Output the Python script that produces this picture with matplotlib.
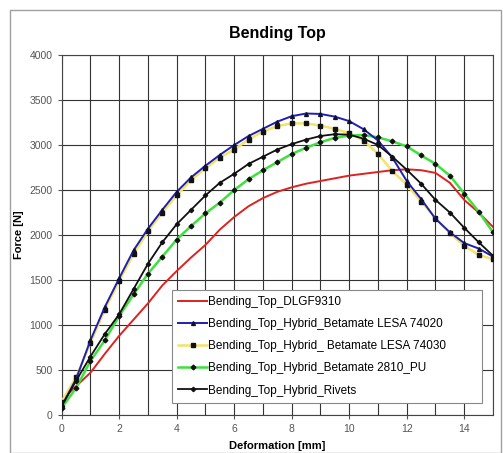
import matplotlib
matplotlib.use("Agg")
from matplotlib import pyplot as plt
from matplotlib.patches import Rectangle

plt.rcParams['font.family'] = ['Liberation Sans', 'DejaVu Sans']

# Werte (Deformation in mm, Kraft in N)
deformation = [0.0, 0.5, 1.0, 1.5, 2.0, 2.5, 3.0, 3.5, 4.0, 4.5, 5.0, 5.5, 6.0, 6.5, 7.0, 7.5,
               8.0, 8.5, 9.0, 9.5, 10.0, 10.5, 11.0, 11.5, 12.0, 12.5, 13.0, 13.5, 14.0, 14.5, 15.0]

force_dlgf = [170, 320, 470, 680, 880, 1060, 1240, 1440, 1600, 1750, 1890, 2060, 2200, 2320, 2410, 2480,
              2530, 2570, 2600, 2630, 2660, 2680, 2700, 2720, 2730, 2720, 2690, 2580, 2390, 2250, 2090]
force_74020 = [100, 400, 830, 1200, 1520, 1830, 2070, 2280, 2480, 2640, 2770, 2890, 3000, 3100, 3180, 3260,
               3320, 3350, 3345, 3315, 3265, 3175, 3050, 2860, 2600, 2400, 2180, 2030, 1910, 1850, 1760]
force_74030 = [150, 420, 800, 1170, 1490, 1790, 2040, 2250, 2440, 2610, 2740, 2860, 2950, 3060, 3150, 3210,
               3240, 3240, 3215, 3180, 3130, 3050, 2900, 2710, 2560, 2370, 2190, 2020, 1880, 1780, 1730]
force_pu = [80, 300, 600, 830, 1100, 1340, 1570, 1760, 1950, 2100, 2240, 2360, 2500, 2620, 2720, 2810,
            2900, 2970, 3030, 3080, 3105, 3110, 3085, 3040, 2985, 2885, 2790, 2660, 2460, 2260, 2030]
force_rivets = [100, 380, 650, 900, 1120, 1400, 1680, 1920, 2120, 2280, 2440, 2580, 2680, 2790, 2870, 2950,
                3010, 3060, 3100, 3120, 3115, 3070, 3000, 2870, 2725, 2570, 2390, 2250, 2080, 1920, 1770]

labels = ["Bending_Top_DLGF9310",
          "Bending_Top_Hybrid_Betamate LESA 74020",
          "Bending_Top_Hybrid_ Betamate LESA 74030",
          "Bending_Top_Hybrid_Betamate 2810_PU",
          "Bending_Top_Hybrid_Rivets"]

fig = plt.figure(figsize=(5.03, 4.53), dpi=100)
fig.patches.append(Rectangle((10 / 503, 0.0), 491 / 503, 1 - 10 / 453, transform=fig.transFigure,
                             fill=False, edgecolor="#a0a0a0", linewidth=1.0))

ax = fig.add_axes([61.7 / 503, 1 - 415 / 453, (493 - 61.7) / 503, 360 / 453])

ax.plot(deformation, force_dlgf, color="#dd2222", lw=1.4, label=labels[0], zorder=3)
ax.plot(deformation, force_74020, color="#1f1fb0", lw=1.4, marker="^", ms=2.8,
        mfc="#101030", mec="#101030", label=labels[1], zorder=4)
ax.plot(deformation, force_74030, color="#f2e36a", lw=1.8, marker="s", ms=2.4,
        mfc="#111111", mec="#111111", label=labels[2], zorder=3)
ax.plot(deformation, force_pu, color="#3ee03e", lw=1.8, marker="D", ms=2.4,
        mfc="#111111", mec="#111111", label=labels[3], zorder=3)
ax.plot(deformation, force_rivets, color="#111111", lw=1.3, marker="D", ms=2.2,
        mfc="#111111", mec="#111111", label=labels[4], zorder=4)

ax.set_xlim(0, 15)
ax.set_ylim(0, 4000)
ax.set_xticks(range(0, 16, 2))
ax.set_xticks(range(0, 16), minor=True)
ax.set_yticks(range(0, 4001, 500))
ax.grid(True, which="both", color="#333333", linewidth=0.8)
ax.set_axisbelow(True)
ax.tick_params(axis="both", which="major", labelsize=7.5, labelcolor="#555555",
               color="#555555", length=3, width=0.8)
ax.tick_params(axis="x", which="minor", length=0)
for s in ax.spines.values():
    s.set_color("#444444")
    s.set_linewidth(0.8)

ax.set_title("Bending Top", fontsize=11.5, fontweight="bold", pad=12)
ax.set_xlabel("Deformation [mm]", fontsize=8, fontweight="bold", labelpad=5)
ax.set_ylabel("Force [N]", fontsize=8, fontweight="bold", labelpad=4)

leg = ax.legend(loc="lower left", bbox_to_anchor=((172 - 61.7) / 431.3, (415 - 403) / 360,
                                                  (482 - 172) / 431.3, (403 - 292) / 360),
                mode="expand", fontsize=8.5, frameon=True, fancybox=False, borderpad=0.55,
                labelspacing=0.85, handlelength=2.4, handletextpad=0.1, borderaxespad=0)
leg.get_frame().set_edgecolor("#888888")
leg.get_frame().set_linewidth(0.8)
leg.get_frame().set_alpha(1)

fig.savefig("out.png", dpi=100)
